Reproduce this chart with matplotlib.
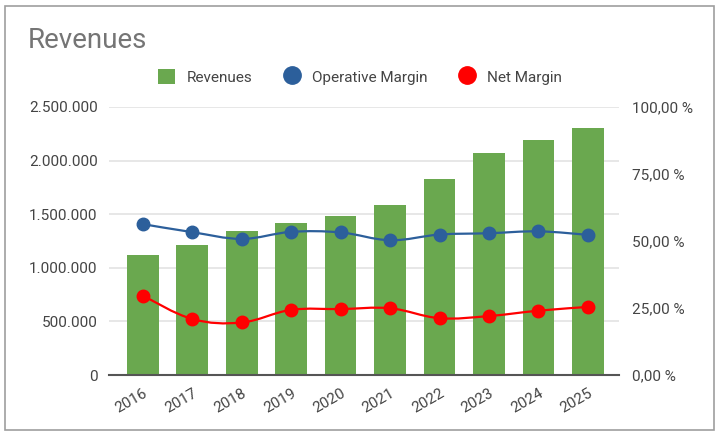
import numpy as np
import matplotlib.pyplot as plt
from matplotlib.path import Path
from matplotlib.patches import PathPatch, Patch, Rectangle
from matplotlib.lines import Line2D

plt.rcParams['font.family'] = ['Roboto', 'DejaVu Sans']

# Dados
years = ["2016", "2017", "2018", "2019", "2020", "2021", "2022", "2023", "2024", "2025"]
revenues = [1120000, 1215000, 1345000, 1420000, 1485000, 1590000, 1830000, 2075000, 2195000, 2305000]
operative_margin = [56.3, 53.3, 50.8, 53.4, 53.2, 50.3, 52.4, 52.9, 53.6, 52.3]
net_margin = [29.6, 20.9, 19.6, 24.3, 24.6, 24.9, 21.2, 22.0, 24.0, 25.4]

green = '#6aa84f'
blue = '#2c5f9b'
red = '#ff0000'
text_col = '#444444'


def smooth_path(x, y, k=0.18):
    # curva suave (catmull-rom -> bezier) so para desenhar
    x = np.asarray(x, float)
    y = np.asarray(y, float)
    verts = [(x[0], y[0])]
    codes = [Path.MOVETO]
    n = len(x)
    for i in range(n - 1):
        i0 = max(i - 1, 0)
        i3 = min(i + 2, n - 1)
        c1 = (x[i] + (x[i + 1] - x[i0]) * k, y[i] + (y[i + 1] - y[i0]) * k)
        c2 = (x[i + 1] - (x[i3] - x[i]) * k, y[i + 1] - (y[i3] - y[i]) * k)
        verts += [c1, c2, (x[i + 1], y[i + 1])]
        codes += [Path.CURVE4] * 3
    return Path(verts, codes)


fig = plt.figure(figsize=(7.23, 4.36), dpi=100)
fig.patches.append(Rectangle((5 / 723, 1 - 430 / 436), 709 / 723, 424 / 436,
                             transform=fig.transFigure, fill=False,
                             edgecolor='#9e9e9e', linewidth=1.2))

ax = fig.add_axes([108.7 / 723, 1 - 375 / 436, (619 - 108.7) / 723, (375 - 107) / 436])
x = np.arange(len(years))
ax.bar(x, revenues, width=0.64, color=green, zorder=2)
ax.set_ylim(0, 2500000)
ax.set_xlim(-0.69, 9.63)
ax.set_yticks(np.arange(0, 2500001, 500000))
ax.set_yticklabels([f"{v:,}".replace(",", ".") for v in range(0, 2500001, 500000)])
ax.set_xticks(x)
ax.set_xticklabels(years, rotation=30, ha='right', rotation_mode='anchor')
ax.grid(axis='y', color='#e3e3e3', linewidth=1.2, zorder=0)
ax.set_axisbelow(True)
for s in ['top', 'right', 'left']:
    ax.spines[s].set_visible(False)
ax.spines['bottom'].set_color('#555555')
ax.spines['bottom'].set_linewidth(1.5)
ax.spines['bottom'].set_zorder(3)
ax.tick_params(length=0, labelsize=11, colors=text_col)
ax.tick_params(axis='x', pad=8)
ax.tick_params(axis='y', pad=8)

ax2 = ax.twinx()
ax2.set_ylim(0, 100)
ax2.set_yticks([0, 25, 50, 75, 100])
ax2.set_yticklabels([f"{v:.2f} %".replace(".", ",") for v in [0, 25, 50, 75, 100]])
for s in ['top', 'right', 'left', 'bottom']:
    ax2.spines[s].set_visible(False)
ax2.tick_params(length=0, labelsize=11, colors=text_col, pad=9)

for vals, col in [(operative_margin, blue), (net_margin, red)]:
    ax2.add_patch(PathPatch(smooth_path(x, vals), fill=False, edgecolor=col,
                            linewidth=1.6, zorder=3))
    ax2.plot(x, vals, linestyle='none', marker='o', markersize=9,
             color=col, zorder=4)

fig.text(28 / 723, 1 - 40 / 436, "Revenues", fontsize=20, color='#757575',
         va='center', ha='left')

handles = [Patch(facecolor=green, edgecolor='none', label='Revenues'),
           Line2D([], [], linestyle='none', marker='o', markersize=12.5, color=blue,
                  label='Operative Margin'),
           Line2D([], [], linestyle='none', marker='o', markersize=12.5, color=red,
                  label='Net Margin')]
leg = fig.legend(handles=handles, loc='center', bbox_to_anchor=(360 / 723, 1 - 77 / 436),
                 ncol=3, frameon=False, fontsize=11, handlelength=1.1, handleheight=1.15,
                 handletextpad=0.8, columnspacing=2.0, labelcolor=text_col)

fig.savefig('out.png', dpi=100)
